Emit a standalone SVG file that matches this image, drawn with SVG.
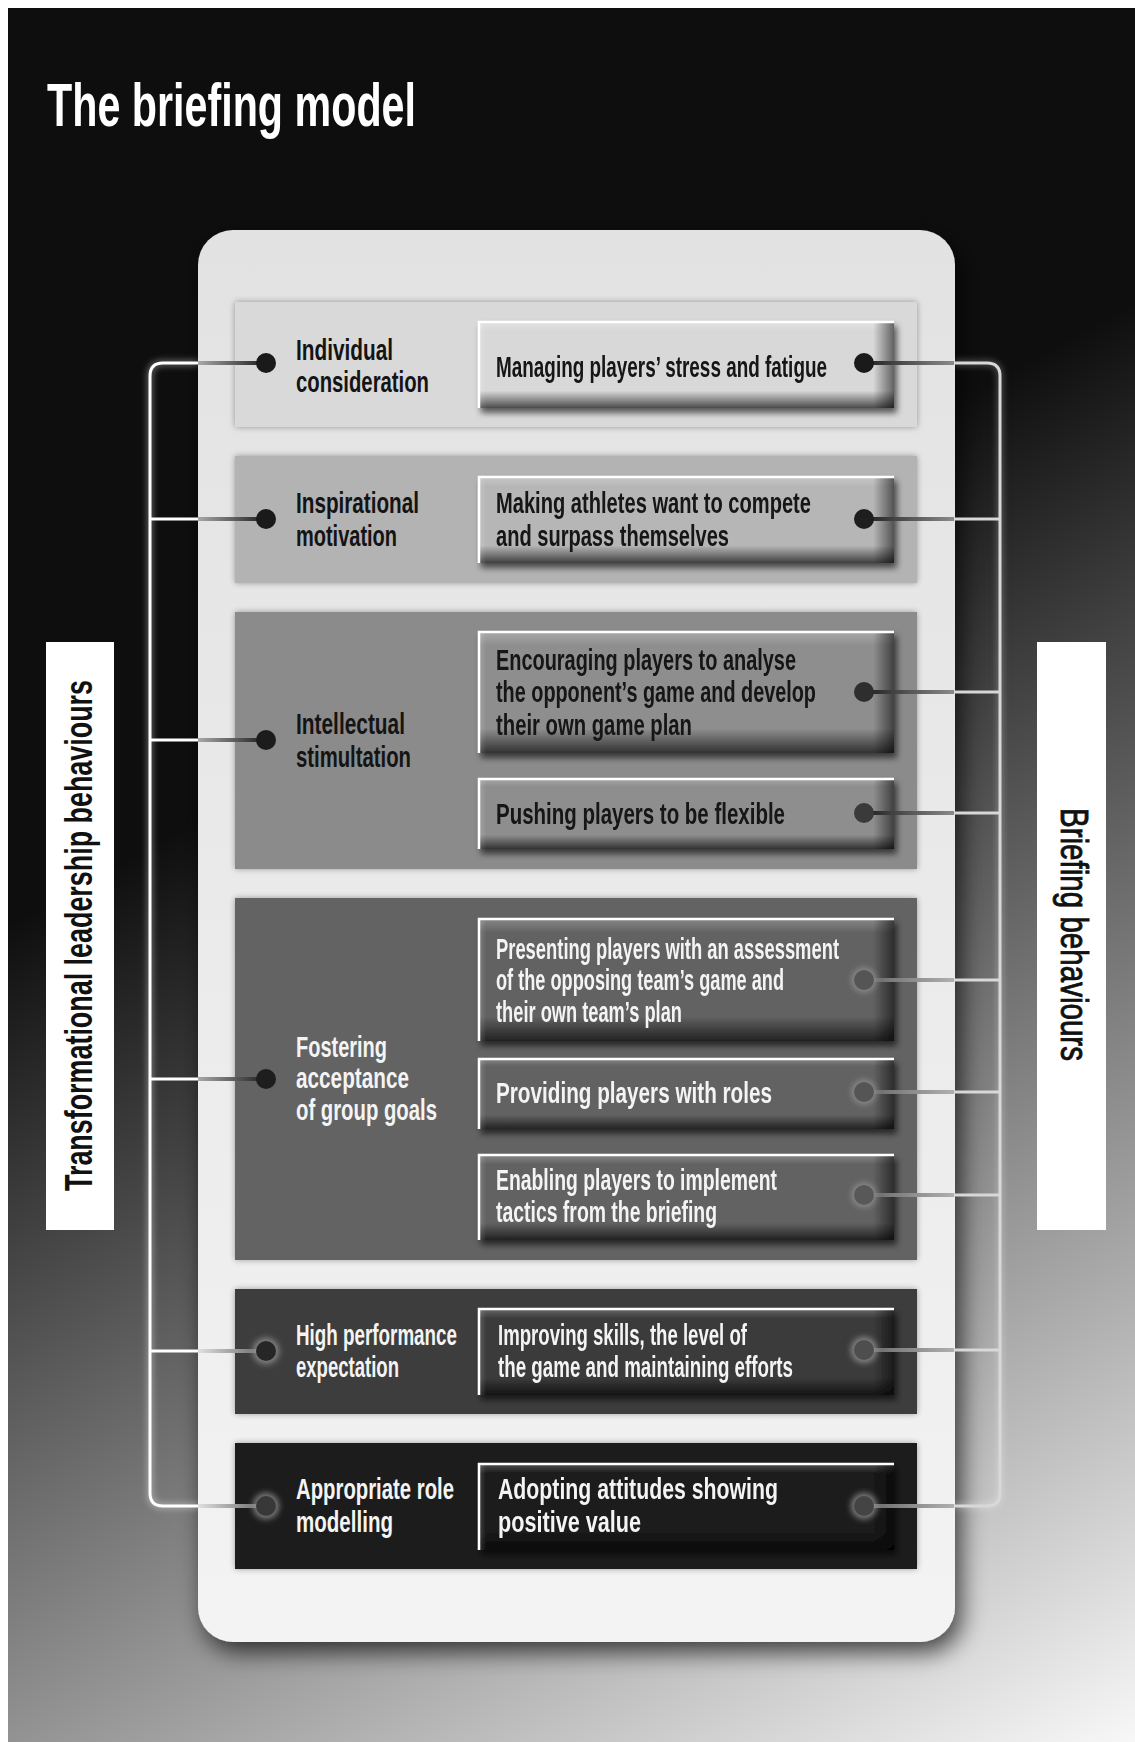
<svg xmlns="http://www.w3.org/2000/svg" width="1135" height="1742" viewBox="0 0 1135 1742">
<style>
  .t { font-family: "Liberation Sans", Arial, sans-serif; font-weight: bold; font-size: 30px; }
  .dk { fill: #141414; }
  .lt { fill: #f4f4f4; }
  .wl { fill: none; stroke: #ffffff; stroke-width: 3; }
  .rl { fill: none; stroke: #d8d8d8; stroke-width: 3; }
</style>
<defs>
  <linearGradient id="bg" gradientUnits="userSpaceOnUse" x1="520" y1="640" x2="1130" y2="1742">
    <stop offset="0" stop-color="#0e0e0e"/>
    <stop offset="1" stop-color="#f7f7f7"/>
  </linearGradient>
  <linearGradient id="panelG" x1="0" y1="0" x2="0" y2="1">
    <stop offset="0" stop-color="#e2e2e2"/>
    <stop offset="1" stop-color="#f3f3f3"/>
  </linearGradient>
  <linearGradient id="shV" x1="0" y1="0" x2="0" y2="1">
    <stop offset="0" stop-color="#fff" stop-opacity="0.25"/>
    <stop offset="0.12" stop-color="#fff" stop-opacity="0"/>
    <stop offset="0.8" stop-color="#000" stop-opacity="0"/>
    <stop offset="1" stop-color="#000" stop-opacity="0.65"/>
  </linearGradient>
  <linearGradient id="shH" x1="0" y1="0" x2="1" y2="0">
    <stop offset="0" stop-color="#fff" stop-opacity="0.2"/>
    <stop offset="0.02" stop-color="#fff" stop-opacity="0"/>
    <stop offset="0.95" stop-color="#000" stop-opacity="0"/>
    <stop offset="1" stop-color="#000" stop-opacity="0.55"/>
  </linearGradient>
  <linearGradient id="lStub" gradientUnits="userSpaceOnUse" x1="198" y1="0" x2="262" y2="0">
    <stop offset="0" stop-color="#a8a8a8"/>
    <stop offset="1" stop-color="#242424"/>
  </linearGradient>
  <linearGradient id="lStubD" gradientUnits="userSpaceOnUse" x1="198" y1="0" x2="262" y2="0">
    <stop offset="0" stop-color="#e0e0e0"/>
    <stop offset="1" stop-color="#6a6a6a"/>
  </linearGradient>
  <linearGradient id="rStub" gradientUnits="userSpaceOnUse" x1="870" y1="0" x2="954" y2="0">
    <stop offset="0" stop-color="#262626"/>
    <stop offset="1" stop-color="#8a8a8a"/>
  </linearGradient>
  <linearGradient id="rStubD" gradientUnits="userSpaceOnUse" x1="870" y1="0" x2="954" y2="0">
    <stop offset="0" stop-color="#6a6a6a"/>
    <stop offset="1" stop-color="#b0b0b0"/>
  </linearGradient>
  <filter id="panelSh" x="-10%" y="-10%" width="125%" height="120%">
    <feGaussianBlur in="SourceAlpha" stdDeviation="12"/>
    <feOffset dx="6" dy="10" result="b"/>
    <feComponentTransfer><feFuncA type="linear" slope="0.7"/></feComponentTransfer>
    <feMerge><feMergeNode/><feMergeNode in="SourceGraphic"/></feMerge>
  </filter>
  <filter id="bandSh" x="-5%" y="-10%" width="110%" height="120%">
    <feGaussianBlur in="SourceAlpha" stdDeviation="3"/>
    <feComponentTransfer><feFuncA type="linear" slope="0.35"/></feComponentTransfer>
    <feMerge><feMergeNode/><feMergeNode in="SourceGraphic"/></feMerge>
  </filter>
  <filter id="boxSh" x="-5%" y="-15%" width="115%" height="140%">
    <feGaussianBlur in="SourceAlpha" stdDeviation="3"/>
    <feOffset dx="3" dy="5"/>
    <feComponentTransfer><feFuncA type="linear" slope="0.6"/></feComponentTransfer>
    <feMerge><feMergeNode/><feMergeNode in="SourceGraphic"/></feMerge>
  </filter>
  <filter id="glow" x="-20%" y="-5%" width="140%" height="110%">
    <feGaussianBlur stdDeviation="3"/>
  </filter>
  <filter id="halo" x="-100%" y="-100%" width="300%" height="300%">
    <feGaussianBlur stdDeviation="3"/>
  </filter>
</defs>

<!-- background -->
<rect x="0" y="0" width="1135" height="1742" fill="#ffffff"/>
<rect x="8" y="8" width="1127" height="1734" fill="url(#bg)"/>

<text id="title" x="47" y="126" font-family="Liberation Sans, Arial, sans-serif" font-weight="bold" font-size="61" fill="#ffffff" textLength="369" lengthAdjust="spacingAndGlyphs">The briefing model</text>

<!-- main panel -->
<rect id="panel" x="198" y="230" width="757" height="1412" rx="35" ry="35" fill="url(#panelG)" filter="url(#panelSh)"/>

<!-- bands (transformational leadership behaviours) -->
<g id="band-1">
  <rect x="235" y="302" width="682" height="125" fill="#d9d9d9" filter="url(#bandSh)"/>
  <text class="t dk" x="296" y="360" textLength="97" lengthAdjust="spacingAndGlyphs">Individual</text>
  <text class="t dk" x="296" y="392" textLength="133" lengthAdjust="spacingAndGlyphs">consideration</text>
</g>
<g id="band-2">
  <rect x="235" y="456" width="682" height="127" fill="#b3b3b3" filter="url(#bandSh)"/>
  <text class="t dk" x="296" y="513" textLength="123" lengthAdjust="spacingAndGlyphs">Inspirational</text>
  <text class="t dk" x="296" y="546" textLength="101" lengthAdjust="spacingAndGlyphs">motivation</text>
</g>
<g id="band-3">
  <rect x="235" y="612" width="682" height="257" fill="#8b8b8b" filter="url(#bandSh)"/>
  <text class="t dk" x="296" y="734" textLength="109" lengthAdjust="spacingAndGlyphs">Intellectual</text>
  <text class="t dk" x="296" y="767" textLength="115" lengthAdjust="spacingAndGlyphs">stimultation</text>
</g>
<g id="band-4">
  <rect x="235" y="898" width="682" height="362" fill="#636363" filter="url(#bandSh)"/>
  <text class="t lt" x="296" y="1057" textLength="91" lengthAdjust="spacingAndGlyphs">Fostering</text>
  <text class="t lt" x="296" y="1088" textLength="113" lengthAdjust="spacingAndGlyphs">acceptance</text>
  <text class="t lt" x="296" y="1120" textLength="141" lengthAdjust="spacingAndGlyphs">of group goals</text>
</g>
<g id="band-5">
  <rect x="235" y="1289" width="682" height="125" fill="#3c3c3c" filter="url(#bandSh)"/>
  <text class="t lt" x="296" y="1345" textLength="161" lengthAdjust="spacingAndGlyphs">High performance</text>
  <text class="t lt" x="296" y="1377" textLength="103" lengthAdjust="spacingAndGlyphs">expectation</text>
</g>
<g id="band-6">
  <rect x="235" y="1443" width="682" height="126" fill="#1b1b1b" filter="url(#bandSh)"/>
  <text class="t lt" x="296" y="1499" textLength="158" lengthAdjust="spacingAndGlyphs">Appropriate role</text>
  <text class="t lt" x="296" y="1532" textLength="97" lengthAdjust="spacingAndGlyphs">modelling</text>
</g>

<!-- boxes (briefing behaviours) -->
<g id="box-1" filter="url(#boxSh)">
  <rect x="478" y="321" width="416" height="87" fill="#d8d8d8"/>
  <rect x="478" y="321" width="416" height="87" fill="url(#shV)"/>
  <rect x="478" y="321" width="416" height="87" fill="url(#shH)"/>
  <path d="M479,408 V322 H894" fill="none" stroke="#ffffff" stroke-width="2.5"/>
  <text class="t dk" x="496" y="377" textLength="331" lengthAdjust="spacingAndGlyphs">Managing players’ stress and fatigue</text>
</g>
<g id="box-2" filter="url(#boxSh)">
  <rect x="478" y="476" width="416" height="87" fill="#b6b6b6"/>
  <rect x="478" y="476" width="416" height="87" fill="url(#shV)"/>
  <rect x="478" y="476" width="416" height="87" fill="url(#shH)"/>
  <path d="M479,563 V477 H894" fill="none" stroke="#ffffff" stroke-width="2.5"/>
  <text class="t dk" x="496" y="513" textLength="315" lengthAdjust="spacingAndGlyphs">Making athletes want to compete</text>
  <text class="t dk" x="496" y="546" textLength="233" lengthAdjust="spacingAndGlyphs">and surpass themselves</text>
</g>
<g id="box-3a" filter="url(#boxSh)">
  <rect x="478" y="631" width="416" height="122" fill="#8e8e8e"/>
  <rect x="478" y="631" width="416" height="122" fill="url(#shV)"/>
  <rect x="478" y="631" width="416" height="122" fill="url(#shH)"/>
  <path d="M479,753 V632 H894" fill="none" stroke="#ffffff" stroke-width="2.5"/>
  <text class="t dk" x="496" y="670" textLength="300" lengthAdjust="spacingAndGlyphs">Encouraging players to analyse</text>
  <text class="t dk" x="496" y="702" textLength="320" lengthAdjust="spacingAndGlyphs">the opponent’s game and develop</text>
  <text class="t dk" x="496" y="735" textLength="196" lengthAdjust="spacingAndGlyphs">their own game plan</text>
</g>
<g id="box-3b" filter="url(#boxSh)">
  <rect x="478" y="778" width="416" height="71" fill="#8e8e8e"/>
  <rect x="478" y="778" width="416" height="71" fill="url(#shV)"/>
  <rect x="478" y="778" width="416" height="71" fill="url(#shH)"/>
  <path d="M479,849 V779 H894" fill="none" stroke="#ffffff" stroke-width="2.5"/>
  <text class="t dk" x="496" y="824" textLength="289" lengthAdjust="spacingAndGlyphs">Pushing players to be flexible</text>
</g>
<g id="box-4a" filter="url(#boxSh)">
  <rect x="478" y="918" width="416" height="123" fill="#626262"/>
  <rect x="478" y="918" width="416" height="123" fill="url(#shV)"/>
  <rect x="478" y="918" width="416" height="123" fill="url(#shH)"/>
  <path d="M479,1041 V919 H894" fill="none" stroke="#ffffff" stroke-width="2.5"/>
  <text class="t lt" x="496" y="959" textLength="343" lengthAdjust="spacingAndGlyphs">Presenting players with an assessment</text>
  <text class="t lt" x="496" y="990" textLength="288" lengthAdjust="spacingAndGlyphs">of the opposing team’s game and</text>
  <text class="t lt" x="496" y="1022" textLength="186" lengthAdjust="spacingAndGlyphs">their own team’s plan</text>
</g>
<g id="box-4b" filter="url(#boxSh)">
  <rect x="478" y="1058" width="416" height="71" fill="#626262"/>
  <rect x="478" y="1058" width="416" height="71" fill="url(#shV)"/>
  <rect x="478" y="1058" width="416" height="71" fill="url(#shH)"/>
  <path d="M479,1129 V1059 H894" fill="none" stroke="#ffffff" stroke-width="2.5"/>
  <text class="t lt" x="496" y="1103" textLength="276" lengthAdjust="spacingAndGlyphs">Providing players with roles</text>
</g>
<g id="box-4c" filter="url(#boxSh)">
  <rect x="478" y="1154" width="416" height="86" fill="#626262"/>
  <rect x="478" y="1154" width="416" height="86" fill="url(#shV)"/>
  <rect x="478" y="1154" width="416" height="86" fill="url(#shH)"/>
  <path d="M479,1240 V1155 H894" fill="none" stroke="#ffffff" stroke-width="2.5"/>
  <text class="t lt" x="496" y="1190" textLength="281" lengthAdjust="spacingAndGlyphs">Enabling players to implement</text>
  <text class="t lt" x="496" y="1222" textLength="221" lengthAdjust="spacingAndGlyphs">tactics from the briefing</text>
</g>
<g id="box-5" filter="url(#boxSh)">
  <rect x="478" y="1308" width="416" height="87" fill="#3b3b3b"/>
  <rect x="478" y="1308" width="416" height="87" fill="url(#shV)"/>
  <rect x="478" y="1308" width="416" height="87" fill="url(#shH)"/>
  <path d="M479,1395 V1309 H894" fill="none" stroke="#ffffff" stroke-width="2.5"/>
  <text class="t lt" x="498" y="1345" textLength="249" lengthAdjust="spacingAndGlyphs">Improving skills, the level of</text>
  <text class="t lt" x="498" y="1377" textLength="295" lengthAdjust="spacingAndGlyphs">the game and maintaining efforts</text>
</g>
<g id="box-6" filter="url(#boxSh)">
  <rect x="478" y="1463" width="416" height="87" fill="#1a1a1a"/>
  <rect x="478" y="1463" width="416" height="87" fill="url(#shV)"/>
  <rect x="478" y="1463" width="416" height="87" fill="url(#shH)"/>
  <path d="M479,1550 V1464 H894" fill="none" stroke="#ffffff" stroke-width="2.5"/>
  <text class="t lt" x="498" y="1499" textLength="280" lengthAdjust="spacingAndGlyphs">Adopting attitudes showing</text>
  <text class="t lt" x="498" y="1532" textLength="143" lengthAdjust="spacingAndGlyphs">positive value</text>
</g>

<!-- side labels -->
<g id="label-left">
  <rect x="46" y="642" width="68" height="588" fill="#ffffff"/>
  <text transform="translate(92,1191) rotate(-90)" x="0" y="0" font-family="Liberation Sans, Arial, sans-serif" font-weight="bold" font-size="38" fill="#111111" textLength="511" lengthAdjust="spacingAndGlyphs">Transformational leadership behaviours</text>
</g>
<g id="label-right">
  <rect x="1037" y="642" width="69" height="588" fill="#ffffff"/>
  <text transform="translate(1061,808) rotate(90)" x="0" y="0" font-family="Liberation Sans, Arial, sans-serif" font-size="38" fill="#111111" stroke="#111111" stroke-width="0.9" textLength="253" lengthAdjust="spacingAndGlyphs">Briefing behaviours</text>
</g>

<!-- connectors -->
<g id="connectors">
  <path d="M198,363 H163 Q150,363 150,376 V1493 Q150,1506 163,1506 H198" fill="none" stroke="#ffffff" stroke-width="6" opacity="0.35" filter="url(#glow)"/>
  <path class="wl" d="M198,363 H163 Q150,363 150,376 V1493 Q150,1506 163,1506 H198"/>
  <path class="wl" d="M150,519 H198 M150,740 H198 M150,1079 H198 M150,1351 H198"/>
  <g stroke="url(#lStub)" stroke-width="4" fill="none">
    <path d="M198,363 H262"/>
    <path d="M198,519 H262"/>
    <path d="M198,740 H262"/>
    <path d="M198,1079 H262"/>
  </g>
  <g stroke="url(#lStubD)" stroke-width="4" fill="none">
    <path d="M198,1351 H262"/>
    <path d="M198,1506 H262"/>
  </g>
  <path d="M954,363 H987 Q1000,363 1000,376 V1493 Q1000,1506 987,1506 H954" fill="none" stroke="#ffffff" stroke-width="6" opacity="0.25" filter="url(#glow)"/>
  <path class="rl" d="M954,363 H987 Q1000,363 1000,376 V1493 Q1000,1506 987,1506 H954"/>
  <path class="rl" d="M954,519 H1000 M954,692 H1000 M954,813 H1000 M954,980 H1000 M954,1092 H1000 M954,1195 H1000 M954,1350 H1000"/>
  <g stroke="url(#rStub)" stroke-width="4" fill="none">
    <path d="M868,363 H954"/>
    <path d="M868,519 H954"/>
    <path d="M868,692 H954"/>
    <path d="M868,813 H954"/>
  </g>
  <g stroke="url(#rStubD)" stroke-width="4" fill="none">
    <path d="M868,980 H954"/>
    <path d="M868,1092 H954"/>
    <path d="M868,1195 H954"/>
    <path d="M868,1350 H954"/>
    <path d="M868,1506 H954"/>
  </g>
  <g fill="#9a9a9a" opacity="0.8" filter="url(#halo)">
    <circle cx="266" cy="1351" r="13"/>
    <circle cx="266" cy="1506" r="13"/>
    <circle cx="864" cy="980" r="12"/>
    <circle cx="864" cy="1092" r="12"/>
    <circle cx="864" cy="1195" r="12"/>
    <circle cx="864" cy="1350" r="13"/>
    <circle cx="864" cy="1506" r="13"/>
  </g>
  <circle cx="266" cy="363" r="10" fill="#1a1a1a"/>
  <circle cx="266" cy="519" r="10" fill="#1a1a1a"/>
  <circle cx="266" cy="740" r="10" fill="#1c1c1c"/>
  <circle cx="266" cy="1079" r="10" fill="#1e1e1e"/>
  <circle cx="266" cy="1351" r="10" fill="#262626"/>
  <circle cx="266" cy="1506" r="10" fill="#383838"/>
  <circle cx="864" cy="363" r="10" fill="#1a1a1a"/>
  <circle cx="864" cy="519" r="10" fill="#1e1e1e"/>
  <circle cx="864" cy="692" r="10" fill="#2e2e2e"/>
  <circle cx="864" cy="813" r="10" fill="#3a3a3a"/>
  <circle cx="864" cy="980" r="10" fill="#555555"/>
  <circle cx="864" cy="1092" r="10" fill="#555555"/>
  <circle cx="864" cy="1195" r="10" fill="#585858"/>
  <circle cx="864" cy="1350" r="10" fill="#4e4e4e"/>
  <circle cx="864" cy="1506" r="10" fill="#444444"/>
</g>
</svg>
